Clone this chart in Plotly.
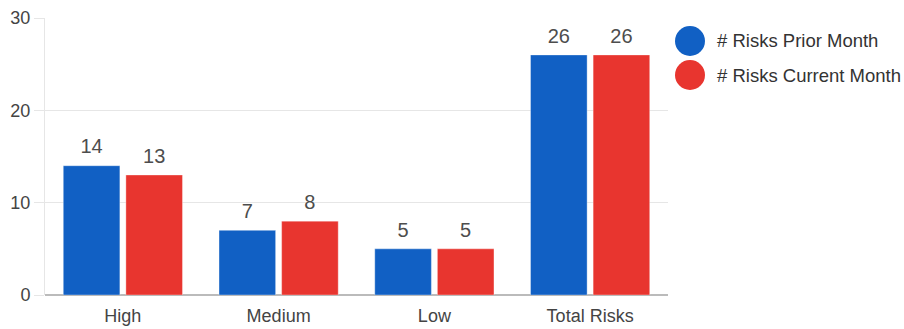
import plotly.graph_objects as go

categories = ["High", "Medium", "Low", "Total Risks"]
prior_month = [14, 7, 5, 26]
current_month = [13, 8, 5, 26]
series_names = ["# Risks Prior Month", "# Risks Current Month"]
colors = ["#1160C4", "#E8352F"]
y_ticks = [0, 10, 20, 30]

FONT = "Liberation Sans, Arial, sans-serif"

fig = go.Figure()
for name, vals, col in zip(series_names, [prior_month, current_month], colors):
    fig.add_trace(go.Bar(
        x=categories, y=vals, name=name, offsetgroup=name,
        marker=dict(color=col, line=dict(color="rgba(255,255,255,0.35)", width=1)),
        showlegend=False,
    ))
for name, vals in zip(series_names, [prior_month, current_month]):
    fig.add_trace(go.Scatter(
        x=categories, y=vals, offsetgroup=name, mode="markers+text",
        marker=dict(size=10, opacity=0),
        text=[str(v) for v in vals], textposition="top center",
        textfont=dict(size=20, color="#4D4D4D", family=FONT),
        cliponaxis=False, showlegend=False, hoverinfo="skip",
    ))

# manual legend with large circles
for i, (name, col) in enumerate(zip(series_names, colors)):
    yc = 1 - (41.0 - 18 + i * 34) / 277
    fig.add_shape(type="circle", xref="paper", yref="paper",
                  xsizemode="pixel", ysizemode="pixel",
                  xanchor=1 + (690 - 668) / 623, yanchor=yc,
                  x0=-15, x1=15, y0=-15, y1=15,
                  fillcolor=col, line=dict(width=0))
    fig.add_annotation(xref="paper", yref="paper",
                       x=1 + (715 - 668) / 623, y=yc, xanchor="left", yanchor="middle",
                       text=name, showarrow=False,
                       font=dict(size=18.5, color="#333333", family=FONT))

fig.update_layout(
    width=904, height=329,
    margin=dict(l=45, r=236, t=18, b=34),
    paper_bgcolor="white", plot_bgcolor="white",
    barmode="group", bargap=0.196, bargroupgap=0.096,
    scattermode="group", scattergap=0.196,
    font=dict(family=FONT, size=18, color="#444444"),
    xaxis=dict(tickfont=dict(size=18, color="#444444"), showline=False,
               showgrid=False, ticks="", ticklabelstandoff=8, automargin=False),
    yaxis=dict(range=[0, 30], tickvals=y_ticks, showgrid=True, gridcolor="#E6E6E6",
               zeroline=True, zerolinecolor="#BBBBBB", zerolinewidth=1.5,
               showline=True, linecolor="#E6E6E6", automargin=False,
               ticks="outside", ticklen=10, tickcolor="#E6E6E6",
               tickfont=dict(size=18, color="#444444")),
    showlegend=False,
)

fig.write_html("out.html")
